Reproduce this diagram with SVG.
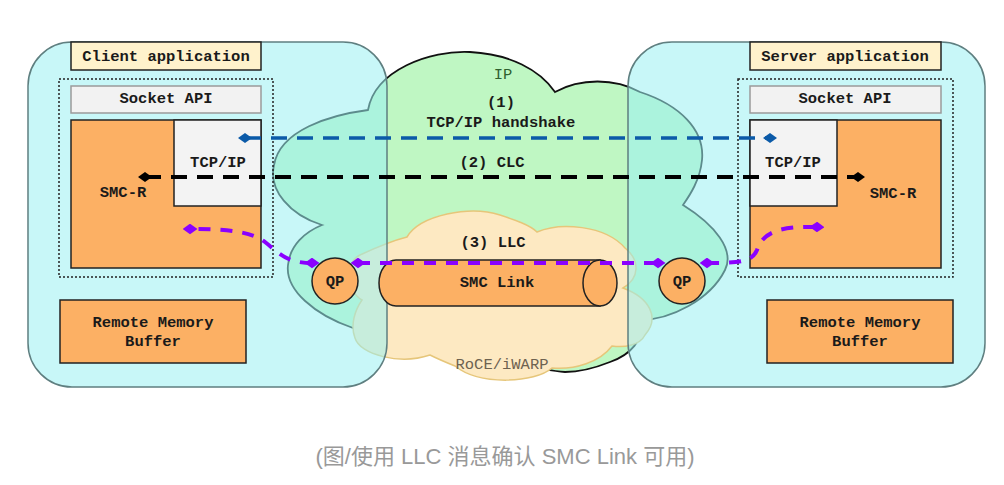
<svg xmlns="http://www.w3.org/2000/svg" width="1004" height="485" viewBox="0 0 1004 485">
<style>
.t{font-family:"Liberation Mono","DejaVu Sans Mono",monospace;font-weight:bold;font-size:15.5px;fill:#1a1a1a;text-anchor:middle}
.n{font-family:"Liberation Mono","DejaVu Sans Mono",monospace;font-size:15.5px;text-anchor:middle}
.host{fill:#9bf0f2;fill-opacity:0.55;stroke:#5f7f80;stroke-width:1.5}
.lbl{fill:#fff2cc;stroke:#222;stroke-width:1.5}
.sock{fill:#f2f2f2;stroke:#9a9a9a;stroke-width:1.5}
.or{fill:#fcb064;stroke:#222;stroke-width:1.5}
.tcp{fill:#f3f3f3;stroke:#222;stroke-width:1.5}
.dot{fill:none;stroke:#222;stroke-width:1.5;stroke-dasharray:2 2}
.pl{fill:none;stroke:#8a00ff;stroke-width:4;stroke-dasharray:12 10}
</style>
<defs>
<marker id="dB" viewBox="0 0 14 10" refX="7" refY="5" markerWidth="14" markerHeight="10" markerUnits="userSpaceOnUse" orient="auto"><path d="M0,5 L7,0 L14,5 L7,10 Z" fill="#0b5aa8"/></marker>
<marker id="dK" viewBox="0 0 14 10" refX="7" refY="5" markerWidth="14" markerHeight="10" markerUnits="userSpaceOnUse" orient="auto"><path d="M0,5 L7,0 L14,5 L7,10 Z" fill="#000"/></marker>
<marker id="dP" viewBox="0 0 14 10" refX="7" refY="5" markerWidth="15" markerHeight="11" markerUnits="userSpaceOnUse" orient="auto"><path d="M0,5 L7,0 L14,5 L7,10 Z" fill="#8a00ff"/></marker>
</defs>
<rect width="1004" height="485" fill="#fff"/>
<g id="ip-cloud">
<path d="M322,225 C290,215 268,190 274,165 C280,130 330,115 368,110 C375,70 430,50 470,52 C510,54 540,70 555,92 C580,78 615,78 640,92 C680,105 705,130 702,160 C700,180 690,195 683,205 C715,225 735,250 725,270 C710,300 670,320 640,320 C645,340 630,355 610,362 C595,368 580,372 565,372 C540,370 500,360 470,355 C440,350 420,345 400,340 C380,336 365,332 353,328 C315,315 285,290 288,265 C290,245 305,232 322,225 Z" fill="#bff7c3" stroke="#111" stroke-width="1.8"/>
<text class="n" x="503" y="79" fill="#2f5f2f">IP</text>
</g>
<g id="roce-cloud">
<path d="M407,237 C420,215 470,205 500,215 C515,220 530,225 537,232 C560,222 605,225 625,248 C640,260 640,278 623,288 C650,298 660,318 645,335 C640,345 625,348 612,346 C600,362 575,370 552,368 C535,383 480,386 455,366 C445,362 436,358 430,355 C400,365 360,355 355,338 C350,325 355,310 362,300 C345,290 345,262 360,255 C375,248 395,240 407,237 Z" fill="#fde9c2" stroke="#e6c67a" stroke-width="1.5"/>
<text class="n" x="502" y="369" fill="#6e6250">RoCE/iWARP</text>
</g>
<g id="client">
<rect class="host" x="28" y="42" width="359" height="345" rx="44"/>
<rect class="lbl" x="71" y="42" width="190" height="28"/>
<text class="t" x="166" y="61">Client application</text>
<rect class="dot" x="59" y="79" width="214" height="198"/>
<rect class="sock" x="71" y="86" width="190" height="27"/>
<text class="t" x="166" y="103" fill="#333">Socket API</text>
<rect class="or" x="71" y="120" width="190" height="148"/>
<rect class="tcp" x="174" y="120" width="87" height="86"/>
<text class="t" x="218" y="167" fill="#333">TCP/IP</text>
<text class="t" x="123" y="197">SMC-R</text>
<rect class="or" x="60" y="300" width="186" height="63"/>
<text class="t" x="153" y="327">Remote Memory</text>
<text class="t" x="153" y="346">Buffer</text>
</g>
<g id="server">
<rect class="host" x="628" y="42" width="357" height="345" rx="44"/>
<rect class="lbl" x="750" y="42" width="191" height="28"/>
<text class="t" x="845" y="61">Server application</text>
<rect class="dot" x="738" y="79" width="215" height="198"/>
<rect class="sock" x="750" y="86" width="191" height="27"/>
<text class="t" x="845" y="103" fill="#333">Socket API</text>
<rect class="or" x="750" y="120" width="191" height="148"/>
<rect class="tcp" x="750" y="120" width="87" height="86"/>
<text class="t" x="793" y="167" fill="#333">TCP/IP</text>
<text class="t" x="893" y="198">SMC-R</text>
<rect class="or" x="767" y="300" width="186" height="63"/>
<text class="t" x="860" y="327">Remote Memory</text>
<text class="t" x="860" y="346">Buffer</text>
</g>
<g id="smc-link">
<path d="M600,260 L396,260 A17,23 0 0 0 396,306 L600,306 Z" class="or"/>
<ellipse cx="600" cy="283" rx="17" ry="23" class="or"/>
<text class="t" x="497" y="287">SMC Link</text>
</g>
<g id="qp-left">
<circle cx="335" cy="281" r="23" class="or"/>
<text class="t" x="335" y="286">QP</text>
</g>
<g id="qp-right">
<circle cx="682" cy="281" r="23" class="or"/>
<text class="t" x="682" y="286">QP</text>
</g>
<g id="labels">
<text class="t" x="501" y="107">(1)</text>
<text class="t" x="501" y="127">TCP/IP handshake</text>
<text class="t" x="492" y="167">(2) CLC</text>
<text class="t" x="493" y="247">(3) LLC</text>
</g>
<g id="connectors">
<path d="M245,138 L770,138" fill="none" stroke="#0b5aa8" stroke-width="3.5" stroke-dasharray="16 10" marker-start="url(#dB)" marker-end="url(#dB)"/>
<path d="M145,177 L858,177" fill="none" stroke="#000" stroke-width="4" stroke-dasharray="16 10" marker-start="url(#dK)" marker-end="url(#dK)"/>
<path class="pl" d="M312,263 C285,263 278,252 265,242 C252,232 230,229 190,229" marker-start="url(#dP)" marker-end="url(#dP)"/>
<path class="pl" d="M358,263 L658,263" marker-start="url(#dP)" marker-end="url(#dP)"/>
<path class="pl" d="M707,263 C740,263 752,262 757,250 C763,232 780,226 817,227" marker-start="url(#dP)" marker-end="url(#dP)"/>
</g>
<text x="505" y="464" font-family="'Liberation Sans','Noto Sans CJK SC',sans-serif" font-size="22" fill="#999" text-anchor="middle">(图/使用 LLC 消息确认 SMC Link 可用)</text>
</svg>
